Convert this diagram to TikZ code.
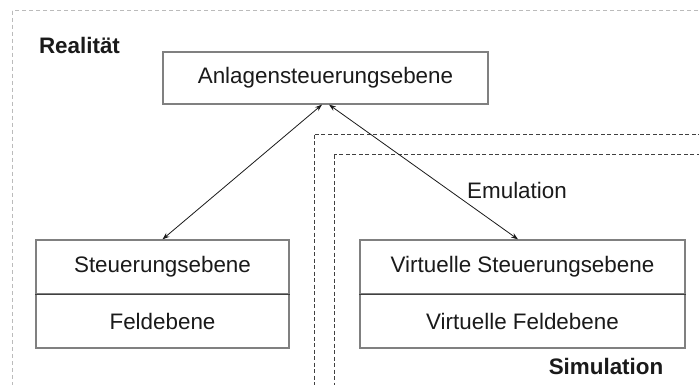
\documentclass[tikz,border=0pt]{standalone}
\usepackage{fontspec}
\setmainfont{Liberation Sans}
\usetikzlibrary{arrows.meta}
\definecolor{boxgray}{HTML}{808080}
\definecolor{divgray}{HTML}{404040}
\definecolor{outergray}{HTML}{BBBBBB}
\definecolor{txt}{HTML}{1A1A1A}
\begin{document}
\begin{tikzpicture}[x=1pt,y=-1pt,
  lbl/.style={font=\fontsize{22.4}{26}\selectfont, text=txt},
  boldlbl/.style={font=\fontsize{22.4}{26}\selectfont\bfseries, text=txt},
  box/.style={draw=boxgray, line width=1.3pt, fill=white, inner sep=0pt, minimum height=54pt, lbl},
  divline/.style={draw=divgray, line width=1.3pt},
  conn/.style={draw=txt, line width=0.8pt, {Stealth[length=7pt,width=5pt]}-{Stealth[length=7pt,width=5pt]}},
  outerdash/.style={draw=outergray, line width=1pt, dash pattern=on 4pt off 3pt},
  innerdash/.style={draw=divgray, line width=1pt, dash pattern=on 4pt off 2.5pt}
]
\useasboundingbox (0,0) rectangle (699,385);
\clip (0,0) rectangle (699,385);
\fill[white] (0,0) rectangle (699,385);
% frames
\draw[outerdash] (12,11) rectangle (730,420);
\draw[innerdash] (314,135) rectangle (730,420);
\draw[innerdash] (334,155) rectangle (730,420);
% boxes
\node[box, minimum width=325pt, minimum height=52pt] (anl) at (325.5,78) {Anlagensteuerungsebene};
\node[box, minimum width=253pt] (st) at (162.5,267) {Steuerungsebene};
\node[box, minimum width=253pt] (fe) at (162.5,321) {Feldebene};
\node[box, minimum width=325pt] (vst) at (522.5,267) {Virtuelle Steuerungsebene};
\node[box, minimum width=325pt] (vfe) at (522.5,321) {Virtuelle Feldebene};
\draw[divline] (st.south west) -- (st.south east);
\draw[divline] (vst.south west) -- (vst.south east);
% labels
\node[boldlbl] (real) at (79.5,45) {Realität};
\node[boldlbl] (sim) at (606,366) {Simulation};
\node[lbl] (emu) at (517,190) {Emulation};
% connectors
\draw[conn] ([xshift=-3.5pt]anl.south) -- (st.north);
\draw[conn] ([xshift=3.5pt]anl.south) -- ([xshift=-4.5pt]vst.north);
\end{tikzpicture}
\end{document}
